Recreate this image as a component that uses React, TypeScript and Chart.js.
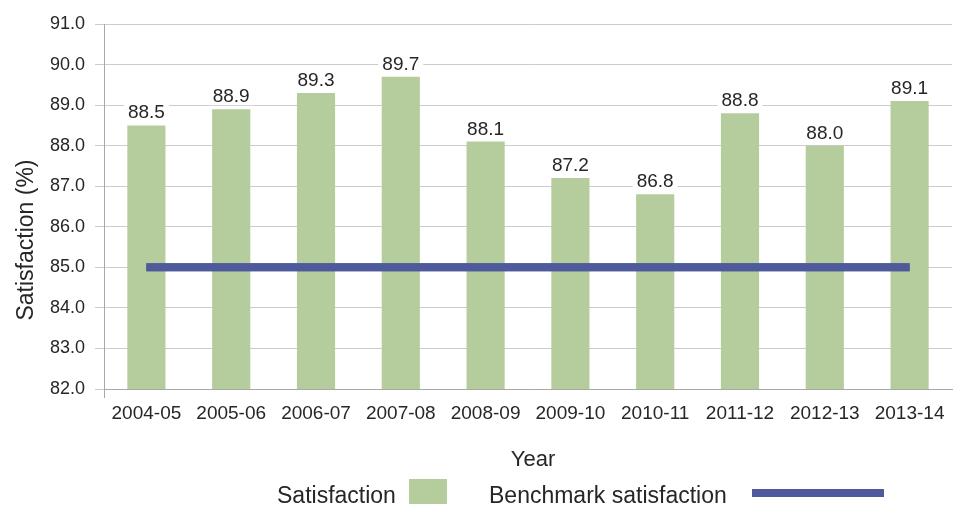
import { useEffect, useRef } from "react";
import { Chart, registerables } from "chart.js";

Chart.register(...registerables);

// Survey years
const years = [
  "2004-05",
  "2005-06",
  "2006-07",
  "2007-08",
  "2008-09",
  "2009-10",
  "2010-11",
  "2011-12",
  "2012-13",
  "2013-14",
];

// Overall satisfaction (%) per year
const satisfaction = [88.5, 88.9, 89.3, 89.7, 88.1, 87.2, 86.8, 88.8, 88.0, 89.1];

// Benchmark satisfaction (%) per year
const benchmark = [85.0, 85.0, 85.0, 85.0, 85.0, 85.0, 85.0, 85.0, 85.0, 85.0];

// Value axis range and step
const yMin = 82;
const yMax = 91;
const yStep = 1;

const FONT = "'Liberation Sans', Arial, sans-serif";
const TEXT = "#262626";
const BAR = "#b5cd9d";
const LINE = "#4e5a9c";
const GRID = "rgba(0,0,0,0.2)";
const AXIS = "#a8a8a8";

const overlayPlugin = {
  id: "overlay",
  afterDraw(chart: any) {
    const { ctx } = chart;

    // benchmark line sits above the gridlines
    const lineMeta = chart.getDatasetMeta(1);
    ctx.save();
    lineMeta.controller.draw();
    ctx.restore();

    // value labels above each bar, on a white patch
    const barMeta = chart.getDatasetMeta(0);
    ctx.save();
    ctx.font = `19px ${FONT}`;
    ctx.textAlign = "center";
    ctx.textBaseline = "alphabetic";
    barMeta.data.forEach((bar: any, i: number) => {
      const label = satisfaction[i].toFixed(1);
      const w = ctx.measureText(label).width;
      const base = bar.y - 7;
      ctx.fillStyle = "#ffffff";
      ctx.fillRect(bar.x - w / 2 - 4, base - 16, w + 8, 19);
      ctx.fillStyle = TEXT;
      ctx.fillText(label, bar.x, base);
    });
    ctx.restore();

    // axis titles
    ctx.save();
    ctx.fillStyle = TEXT;
    ctx.font = `22px ${FONT}`;
    ctx.textAlign = "center";
    ctx.textBaseline = "alphabetic";
    ctx.fillText("Year", 533, 466);
    ctx.translate(33, 240);
    ctx.rotate(-Math.PI / 2);
    ctx.font = `23px ${FONT}`;
    ctx.fillText("Satisfaction (%)", 0, 0);
    ctx.restore();

    // legend: label followed by its swatch
    ctx.save();
    ctx.fillStyle = TEXT;
    ctx.font = `23px ${FONT}`;
    ctx.textAlign = "left";
    ctx.textBaseline = "alphabetic";
    ctx.fillText("Satisfaction", 277, 503);
    ctx.fillStyle = BAR;
    ctx.fillRect(409, 479, 38, 25);
    ctx.fillStyle = TEXT;
    ctx.fillText("Benchmark satisfaction", 489, 503);
    ctx.fillStyle = LINE;
    ctx.fillRect(752, 489, 132, 8);
    ctx.restore();
  },
};

export default function App() {
  const canvasRef = useRef<HTMLCanvasElement | null>(null);

  useEffect(() => {
    if (!canvasRef.current) return;
    const chart = new Chart(canvasRef.current, {
      type: "bar",
      data: {
        labels: years,
        datasets: [
          {
            type: "bar",
            label: "Satisfaction",
            data: satisfaction,
            backgroundColor: BAR,
            borderWidth: 0,
            barPercentage: 1,
            categoryPercentage: 0.45,
            order: 2,
          },
          {
            type: "line",
            label: "Benchmark satisfaction",
            data: benchmark,
            borderColor: LINE,
            backgroundColor: LINE,
            borderWidth: 8,
            borderCapStyle: "butt",
            pointRadius: 0,
            pointHoverRadius: 0,
            fill: false,
            tension: 0,
            order: 1,
          },
        ],
      },
      plugins: [overlayPlugin],
      options: {
        responsive: false,
        animation: false,
        events: [],
        layout: { padding: { top: 24, right: 18, left: 0, bottom: 0 } },
        plugins: {
          legend: { display: false },
          tooltip: { enabled: false },
          title: { display: false },
        },
        scales: {
          x: {
            type: "category",
            offset: true,
            grid: {
              display: true,
              drawOnChartArea: false,
              offset: true,
              tickLength: 9,
              color: (c: any) => (c.index === 0 ? AXIS : "transparent"),
            },
            border: { display: true, color: AXIS, width: 1 },
            ticks: {
              color: TEXT,
              font: { family: FONT, size: 19 },
              padding: 4,
              maxRotation: 0,
              autoSkip: false,
            },
            afterFit: (s: any) => {
              s.height = 118;
            },
          },
          y: {
            min: yMin,
            max: yMax,
            z: 1,
            grid: {
              color: GRID,
              lineWidth: 1,
              tickLength: 9,
            },
            border: { display: true, color: AXIS, width: 1 },
            ticks: {
              stepSize: yStep,
              color: TEXT,
              font: { family: FONT, size: 18 },
              padding: 10,
              callback: (v: any) => Number(v).toFixed(1),
            },
            afterFit: (s: any) => {
              s.width = 104;
            },
          },
        },
      },
    });
    return () => chart.destroy();
  }, []);

  return (
    <div style={{ position: "absolute", left: 0, top: 0, width: 970, height: 507, background: "#ffffff" }}>
      <canvas ref={canvasRef} width={970} height={507} style={{ display: "block" }} />
    </div>
  );
}
